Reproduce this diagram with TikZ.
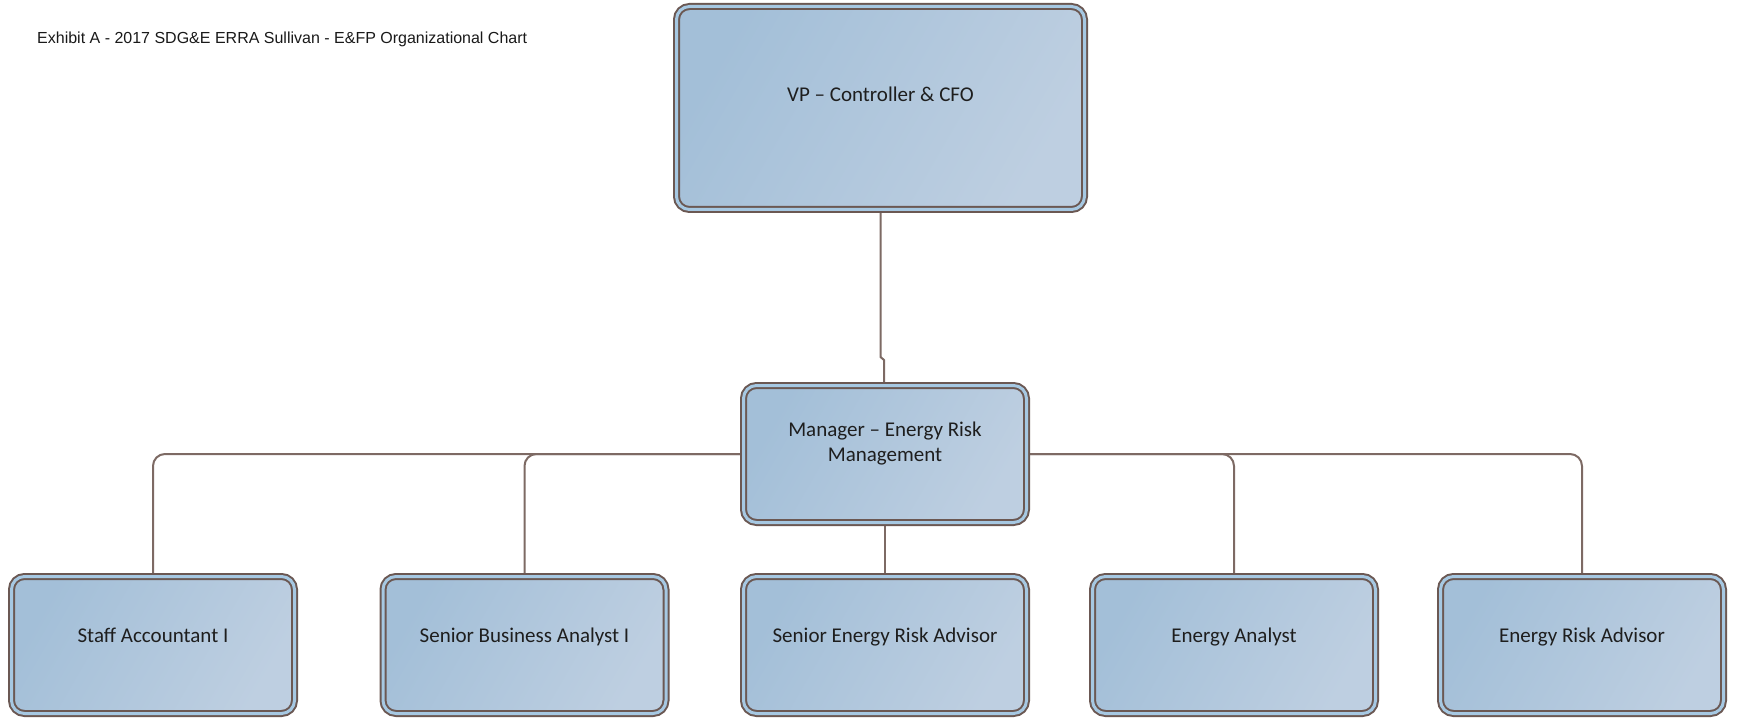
\documentclass[tikz,border=0pt]{standalone}
\usepackage{fontspec}
\setmainfont{Carlito}
\newfontfamily\titlefont{Liberation Sans}
\usetikzlibrary{shadows,backgrounds}
\definecolor{bord}{HTML}{6B5853}
\definecolor{gapc}{HTML}{A6C8E2}
\definecolor{fillA}{HTML}{A3BFD8}
\definecolor{fillB}{HTML}{BECFE1}
\definecolor{connc}{HTML}{7D6A64}
\definecolor{txt}{HTML}{1E1E1E}
\begin{document}
\begin{tikzpicture}[x=1pt,y=-1pt,
  box/.style={rectangle, rounded corners=13pt, draw=bord, line width=2pt,
    double=gapc, double distance=3pt, left color=fillA, right color=fillB,
    shading angle=60,
    drop shadow={shadow xshift=2pt, shadow yshift=-2.5pt, opacity=0.25, fill=black},
    minimum width=283pt, minimum height=137pt, inner sep=0pt},
  lbl/.style={font=\fontsize{21}{25}\selectfont, text=txt, inner sep=0pt, anchor=base},
  conn/.style={draw=connc, line width=2pt, rounded corners=12pt}]
\useasboundingbox (0,0) rectangle (1738,722);
\node[anchor=base west, inner sep=0pt, font=\titlefont\fontsize{16}{19}\selectfont, text=black!90] (title) at (37,43.5) {Exhibit A - 2017 SDG\&E ERRA Sullivan - E\&FP Organizational Chart};
% boxes
\node[box, minimum width=408pt, minimum height=203pt] (vp) at (880.5,108) {};
\node[box] (mgr) at (885,454) {};
\node[box] (sa) at (153,645) {};
\node[box] (sba) at (524.5,645) {};
\node[box] (sera) at (885,645) {};
\node[box] (ea) at (1234,645) {};
\node[box] (era) at (1582,645) {};
% labels
\node[lbl] (vpT) at (880.5,102) {VP \textendash{} Controller \& CFO};
\node[lbl] (mgrT1) at (885,436.5) {Manager \textendash{} Energy Risk};
\node[lbl] (mgrT2) at (885,461.5) {Management};
\node[lbl] (saT) at (153,642.5) {Staff Accountant I};
\node[lbl] (sbaT) at (524.5,642.5) {Senior Business Analyst I};
\node[lbl] (seraT) at (885,642.5) {Senior Energy Risk Advisor};
\node[lbl] (eaT) at (1234,642.5) {Energy Analyst};
\node[lbl] (eraT) at (1582,642.5) {Energy Risk Advisor};
% connectors
\begin{scope}[on background layer]
\coordinate (j1) at (880.5,357);
\coordinate (j2) at (884,360);
\draw[conn, rounded corners=0pt] (vp.south) -- (j1) -- (j2) -- (j2 |- mgr.north);
\draw[conn] (mgr.west) -| (sa.north);
\draw[conn] (mgr.west) -| (sba.north);
\draw[conn] (mgr.south) -- (sera.north);
\draw[conn] (mgr.east) -| (ea.north);
\draw[conn] (mgr.east) -| (era.north);
\end{scope}
\end{tikzpicture}
\end{document}
